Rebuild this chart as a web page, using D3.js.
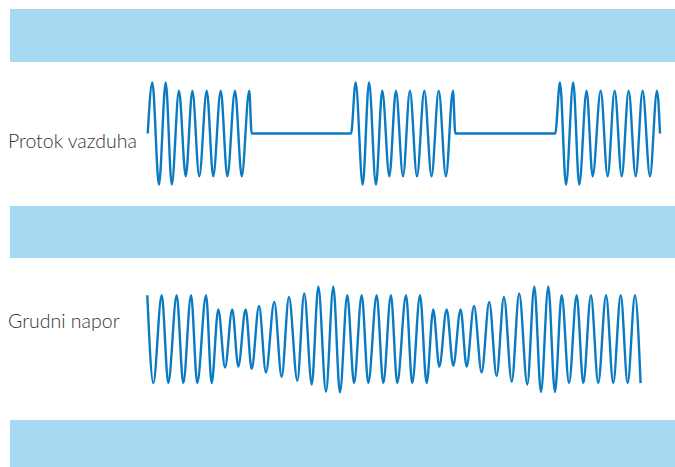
<!DOCTYPE html>
<html><head><meta charset="utf-8">
<script src="https://cdn.jsdelivr.net/npm/d3@7"></script>
<style>html,body{margin:0;padding:0;background:#fff;}svg{display:block;}</style>
</head><body>
<svg id="chart" width="675" height="467"></svg>
<script>
// ---- Data (time in arbitrary units, amplitude normalised) ----
const labels = ["Protok vazduha", "Grudni napor"];

// Airflow: extrema/anchor points (time, value)
const airflowT = [0.05,0.37,0.83,1.30,1.72,2.22,2.69,3.15,3.63,4.15,4.60,5.12,5.58,6.11,6.58,7.10,7.27,
  14.17,14.49,14.98,15.42,15.90,16.34,16.83,17.29,17.78,18.26,18.75,19.26,19.76,20.26,20.76,21.25,21.41,
  28.35,28.68,29.10,29.60,30.02,30.53,30.95,31.51,31.99,32.48,32.97,33.45,33.94,34.42,34.93,35.42,35.63];
const airflowV = [0,1,-1,1,-1,0.84,-0.84,0.84,-0.84,0.84,-0.84,0.84,-0.84,0.84,-0.84,0.84,0,
  0,1,-1,1,-1,0.84,-0.84,0.84,-0.84,0.84,-0.84,0.84,-0.84,0.84,-0.84,0.84,0,
  0,1,-1,1,-1,0.84,-0.84,0.84,-0.84,0.84,-0.84,0.84,-0.84,0.84,-0.84,0.84,0];

// Chest effort: extrema (time, value)
const chestT = [0.02,0.44,1.02,1.48,2.06,2.52,3.06,3.49,4.10,4.49,4.95,5.42,5.92,6.34,6.85,7.27,7.78,8.26,8.84,9.35,
  9.86,10.44,10.92,11.44,11.90,12.43,12.94,13.40,13.91,14.38,14.91,15.37,15.95,16.41,16.94,17.38,17.99,18.42,18.96,19.42,
  19.88,20.30,20.81,21.27,21.78,22.20,22.71,23.24,23.77,24.28,24.79,25.33,25.85,26.41,26.90,27.36,27.87,28.33,28.80,29.31,
  29.84,30.30,30.83,31.34,31.88,32.38,32.90,33.38,33.89,34.28];
const chestV = [0.98,-1,0.98,-1,0.98,-1,0.98,-1,0.98,-1,0.66,-0.65,0.66,-0.63,0.66,-0.68,0.74,-0.76,0.83,-0.86,
  0.94,-0.95,1.02,-1.03,1.17,-1.19,1.17,-1.21,0.98,-1,0.98,-1,0.98,-1,0.98,-1,0.98,-1,0.98,-1,
  0.66,-0.63,0.66,-0.61,0.66,-0.63,0.74,-0.76,0.83,-0.84,0.94,-0.97,1.02,-1.03,1.17,-1.2,1.17,-1.2,0.98,-1,
  0.98,-1,0.98,-1,0.98,-1,0.98,-1,0.98,-1];

// ---- Layout ----
const W = 675, H = 467;
const svg = d3.select("#chart");
const bandColor = "#a7daf2";
const lineColor = "#0a7bc3";
const bands = [[9, 62], [206, 258], [420, 467]];

svg.selectAll("rect.band").data(bands).enter().append("rect")
  .attr("class","band")
  .attr("x", 10).attr("width", W - 10)
  .attr("y", d => d[0]).attr("height", d => d[1] - d[0])
  .attr("fill", bandColor);

const x = d3.scaleLinear().domain([0, 35.6]).range([147, 659.6]);
const yAir = d3.scaleLinear().domain([-1, 1]).range([184.5, 82.5]);
const yChest = d3.scaleLinear().domain([-1, 1]).range([383.1, 294.3]);

const air = airflowT.map((t,i) => [t, airflowV[i]]);
const chest = chestT.map((t,i) => [t, chestV[i]]);

svg.append("path")
  .attr("d", d3.line().x(d => x(d[0])).y(d => yAir(d[1])).curve(d3.curveMonotoneX)(air))
  .attr("fill","none").attr("stroke", lineColor).attr("stroke-width", 2.4).attr("stroke-linejoin","round");

svg.append("path")
  .attr("d", d3.line().x(d => x(d[0])).y(d => yChest(d[1])).curve(d3.curveMonotoneX)(chest))
  .attr("fill","none").attr("stroke", lineColor).attr("stroke-width", 2.4).attr("stroke-linejoin","round");

const labelY = [148, 328];
svg.selectAll("text.lbl").data(labels).enter().append("text")
  .attr("class","lbl")
  .attr("x", 8).attr("y", (d,i) => labelY[i])
  .attr("font-family", "Lato, 'Open Sans', sans-serif")
  .attr("font-weight", 300)
  .attr("font-size", 19.5)
  .attr("fill", "#333")
  .text(d => d);
</script>
</body></html>
